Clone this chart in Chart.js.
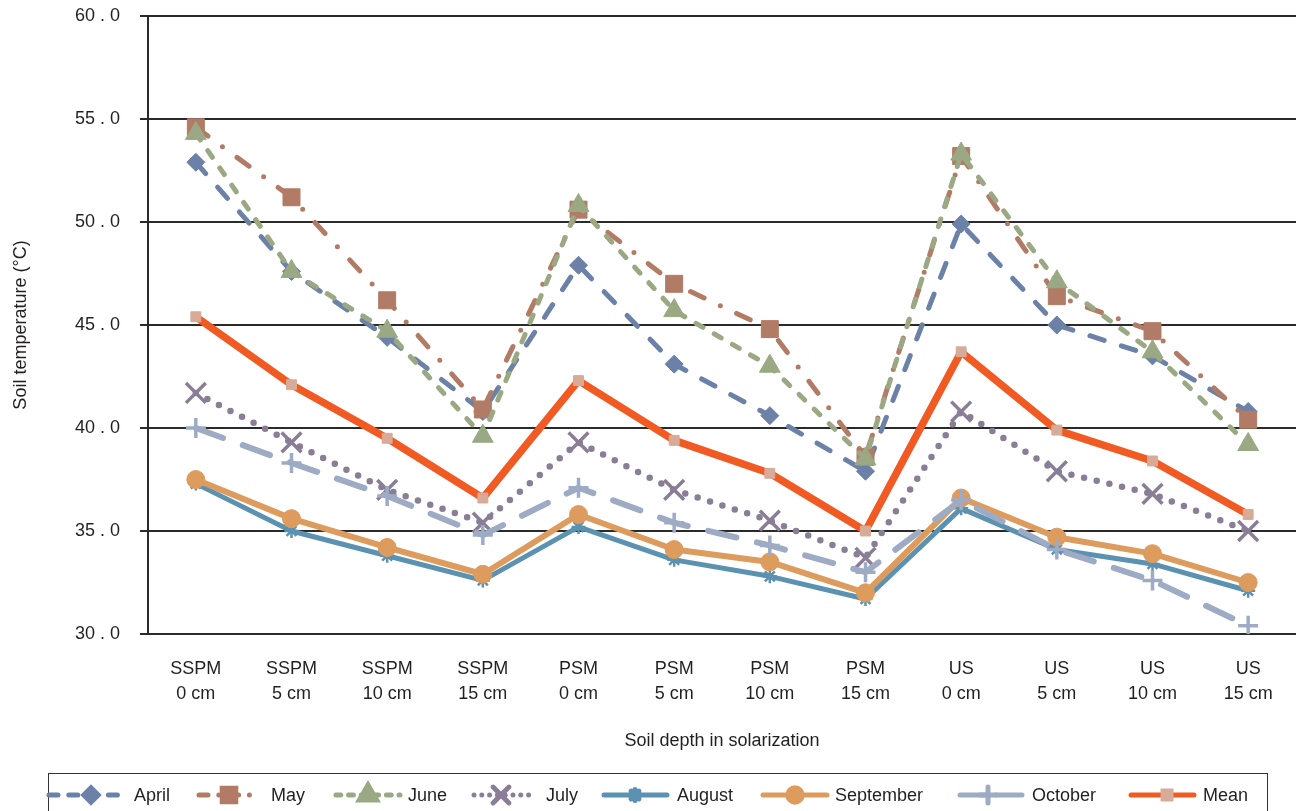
<!DOCTYPE html>
<html>
<head>
<meta charset="utf-8">
<script src="https://cdn.jsdelivr.net/npm/chart.js@4.4.1/dist/chart.umd.min.js"></script>
<style>
  html, body { margin: 0; padding: 0; background: #fff; }
  #wrap { width: 1296px; height: 811px; }
</style>
</head>
<body>
<div id="wrap"><canvas id="soilChart" width="1296" height="811"></canvas></div>
<script>
// Soil temperature by depth and solarization treatment, April - October

const categories = [
  ['SSPM', '0 cm'], ['SSPM', '5 cm'], ['SSPM', '10 cm'], ['SSPM', '15 cm'],
  ['PSM', '0 cm'], ['PSM', '5 cm'], ['PSM', '10 cm'], ['PSM', '15 cm'],
  ['US', '0 cm'], ['US', '5 cm'], ['US', '10 cm'], ['US', '15 cm']
];
const yTickLabels = ['30 . 0', '35 . 0', '40 . 0', '45 . 0', '50 . 0', '55 . 0', '60 . 0'];

const april     = [52.9, 47.6, 44.4, 40.8, 47.9, 43.1, 40.6, 37.9, 49.9, 45.0, 43.5, 40.8];
const may       = [54.6, 51.2, 46.2, 40.9, 50.6, 47.0, 44.8, 38.6, 53.2, 46.4, 44.7, 40.4];
const june      = [54.3, 47.6, 44.7, 39.6, 50.8, 45.7, 43.0, 38.5, 53.3, 47.1, 43.7, 39.2];
const july      = [41.7, 39.3, 37.0, 35.4, 39.3, 37.0, 35.5, 33.7, 40.8, 37.9, 36.8, 35.0];
const august    = [37.3, 35.0, 33.8, 32.6, 35.2, 33.6, 32.8, 31.7, 36.1, 34.1, 33.4, 32.1];
const september = [37.5, 35.6, 34.2, 32.9, 35.8, 34.1, 33.5, 32.0, 36.6, 34.7, 33.9, 32.5];
const october   = [40.0, 38.3, 36.7, 34.8, 37.1, 35.4, 34.3, 33.0, 36.5, 34.1, 32.6, 30.4];
const mean      = [45.4, 42.1, 39.5, 36.6, 42.3, 39.4, 37.8, 35.0, 43.7, 39.9, 38.4, 35.8];

const textColor = '#231f20';
const fontFamily = '"Liberation Sans", Arial, Helvetica, sans-serif';

function series(label, data, color, width, dash, style, radius, ptBorder, ptFill) {
  return {
    label: label,
    data: data,
    borderColor: color,
    backgroundColor: color,
    borderWidth: width,
    borderDash: dash,
    borderCapStyle: 'round',
    borderJoinStyle: 'round',
    pointStyle: style,
    pointRadius: radius,
    pointBorderWidth: ptBorder,
    pointBackgroundColor: ptFill || color,
    pointBorderColor: ptFill || color,
    tension: 0,
    fill: false
  };
}

const datasets = [
  series('April', april, '#6b81a7', 5, [15, 18], 'rectRot', 9, 1),
  series('May', may, '#b17b66', 5, [15, 18, 0, 18], 'rect', 12, 1),
  series('June', june, '#9aa983', 5, [8, 13], 'triangle', 12, 1),
  series('July', july, '#8a7e96', 6.5, [0, 13], 'crossRot', 14, 3.5),
  series('August', august, '#5b92b1', 5, [], 'star', 7, 2.5),
  series('September', september, '#dd9b5d', 6, [], 'circle', 9, 1),
  series('October', october, '#9eabc5', 6, [29, 21], 'cross', 10, 3.5),
  series('Mean', mean, '#f15a23', 7.5, [], 'rect', 7, 1, '#d8aa98')
];
// later series are drawn on top, like the original
datasets.forEach(function(ds, i) { ds.order = datasets.length - i; });

// legend drawn by hand so line samples show dashes and markers
const legendSampleX = [[46, 126], [196, 254], [333, 403], [471, 537], [601, 670], [760, 830], [957, 1025], [1128, 1197]];
const legendMarkX = [91, 229, 368, 501, 635, 795, 988, 1167];
const legendTextX = [134, 271, 408, 546, 677, 835, 1032, 1203];

const legendPlugin = {
  id: 'sampleLegend',
  afterDraw: function(chart) {
    const ctx = chart.ctx;
    const y = 795;
    ctx.save();
    ctx.strokeStyle = '#333';
    ctx.lineWidth = 1;
    ctx.strokeRect(48.5, 773.5, 1219, 60);
    ctx.font = '18px ' + fontFamily;
    ctx.textBaseline = 'middle';
    chart.data.datasets.forEach(function(ds, i) {
      const x0 = legendSampleX[i][0] + 3, x1 = legendSampleX[i][1] - 3;
      const mx = legendMarkX[i];
      ctx.save();
      ctx.strokeStyle = ds.borderColor;
      ctx.lineWidth = Math.min(ds.borderWidth, 5);
      ctx.lineCap = 'round';
      let dash = [];
      if (ds.label === 'October') dash = [28, 8];
      else if (ds.borderDash.length) dash = ds.borderDash.map(function(v) { return v * 0.6; });
      ctx.setLineDash(dash);
      ctx.beginPath();
      ctx.moveTo(x0, y);
      ctx.lineTo(x1, y);
      ctx.stroke();
      ctx.setLineDash([]);
      ctx.fillStyle = ds.pointBackgroundColor;
      ctx.strokeStyle = ds.pointBorderColor;
      Chart.helpers.drawPoint(ctx, {
        pointStyle: ds.pointStyle,
        radius: ds.pointStyle === 'triangle' ? 10 : ds.pointRadius * 0.8,
        borderWidth: ds.pointBorderWidth,
        rotation: 0
      }, mx, y);
      ctx.restore();
      ctx.fillStyle = textColor;
      ctx.fillText(ds.label, legendTextX[i], y + 1);
    });
    ctx.restore();
  }
};

new Chart(document.getElementById('soilChart'), {
  type: 'line',
  data: { labels: categories, datasets: datasets },
  options: {
    responsive: false,
    animation: false,
    layout: { autoPadding: false, padding: { top: 16, right: -6, left: 0, bottom: 0 } },
    plugins: {
      legend: { display: false },
      tooltip: { enabled: false }
    },
    scales: {
      x: {
        offset: true,
        // tick marks hidden; their length only spaces the labels off the axis
        grid: { display: false, drawTicks: true, tickLength: 22 },
        border: { display: false },
        ticks: {
          color: textColor,
          font: { family: fontFamily, size: 18, lineHeight: 1.4 },
          padding: 0,
          maxRotation: 0,
          autoSkip: false
        },
        title: {
          display: true,
          text: 'Soil depth in solarization',
          color: textColor,
          font: { family: fontFamily, size: 18 },
          padding: { top: 0, bottom: 59 }
        },
        afterFit: function(scale) {
          scale.height = 177;
          scale.paddingLeft = 0;
          scale.paddingRight = 0;
        }
      },
      y: {
        min: 30,
        max: 60,
        ticks: {
          stepSize: 5,
          color: textColor,
          font: { family: fontFamily, size: 18 },
          padding: 20,
          callback: function(value, index) { return yTickLabels[index]; }
        },
        grid: { color: '#2a2a2a', lineWidth: 2, tickLength: 8, drawTicks: true },
        border: { display: true, color: '#2a2a2a', width: 2 },
        title: {
          display: true,
          text: 'Soil temperature (°C)',
          color: textColor,
          font: { family: fontFamily, size: 18 },
          padding: { top: 10, bottom: 0 }
        },
        afterFit: function(scale) {
          scale.width = 148;
          scale.paddingTop = 0;
          scale.paddingBottom = 0;
        }
      }
    }
  },
  plugins: [legendPlugin]
});
</script>
</body>
</html>
